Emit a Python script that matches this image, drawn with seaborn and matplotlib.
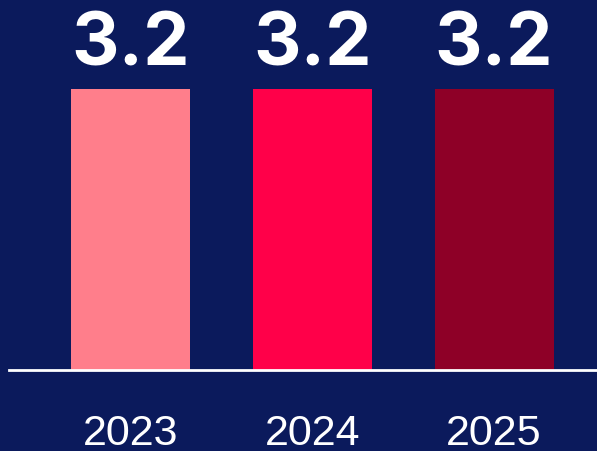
import matplotlib
matplotlib.use("Agg")
import matplotlib.pyplot as plt
import seaborn as sns
import pandas as pd

years = ["2023", "2024", "2025"]
values = [3.2, 3.2, 3.2]
bar_colors = ["#FF7E8B", "#FF0049", "#8E0027"]

BG = "#0B1A5C"

sns.set_theme(style="white")
plt.rcParams["font.family"] = ["Liberation Sans", "DejaVu Sans"]

df = pd.DataFrame({"year": years, "value": values})

fig = plt.figure(figsize=(5.97, 4.51), dpi=100, facecolor=BG)
ax = fig.add_axes([9 / 597, 81 / 451, 588 / 597, 370 / 451])
ax.set_facecolor(BG)

sns.barplot(data=df, x="year", y="value", hue="year", palette=bar_colors,
            width=0.655, legend=False, ax=ax, saturation=1,
            edgecolor="none", linewidth=0)

ax.set_xlim(-0.668, 2.566)
ax.set_ylim(0, 4.21)

for sp in ["top", "right", "left"]:
    ax.spines[sp].set_visible(False)
ax.spines["bottom"].set_color("white")
ax.spines["bottom"].set_linewidth(2)

ax.set_yticks([])
ax.set_xlabel("")
ax.set_ylabel("")
ax.tick_params(axis="x", length=0, pad=32, labelsize=31, labelcolor="white")

# value labels sit just above each bar
for i, v in enumerate(values):
    ax.annotate(f"{v:.1f}", (i, v), xytext=(0, 16.5), textcoords="offset points",
                ha="center", va="baseline", color="white", fontsize=53,
                fontweight="bold", family=["Inter", "DejaVu Sans"])

fig.savefig("out.png", dpi=100, facecolor=BG)
